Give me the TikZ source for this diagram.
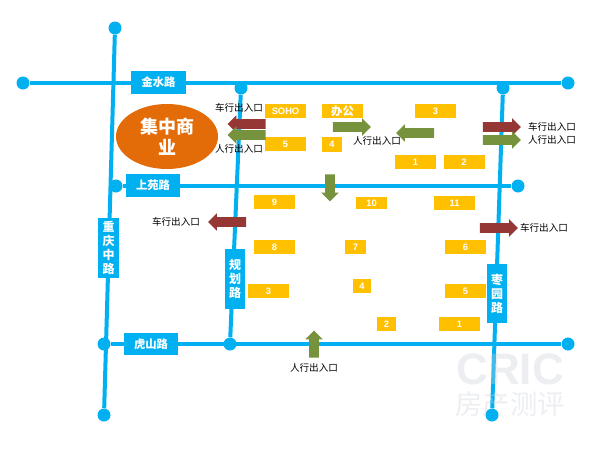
\documentclass[tikz,border=0pt]{standalone}
\usepackage{fontspec}
\setmainfont{Noto Sans CJK SC}
\newfontfamily\latinfont{Liberation Sans}
\usetikzlibrary{shapes.geometric,shapes.arrows}
\definecolor{road}{HTML}{00B0F0}
\definecolor{lot}{HTML}{FFC000}
\definecolor{hub}{HTML}{E36C09}
\definecolor{brick}{HTML}{953735}
\definecolor{moss}{HTML}{76923C}
\definecolor{mark}{HTML}{C9CDD6}
\tikzset{
  roadline/.style={draw=road, line width=3pt},
  roaddot/.style={circle, fill=road, inner sep=0pt, minimum size=9.75pt},
  roadtag/.style={fill=road, text=white, inner sep=0pt, align=center, font=\fontsize{8.5}{10.5}\selectfont\bfseries},
  roadtagv/.style={roadtag, font=\fontsize{9}{10.5}\selectfont\bfseries},
  lotbox/.style={fill=lot, text=white, inner sep=0pt, minimum width=30.75pt, minimum height=10.5pt, font=\fontsize{7}{8}\latinfont\bfseries},
  gateway/.style={single arrow, inner xsep=0pt, inner ysep=3.375pt, minimum height=28.5pt, minimum width=12.75pt, single arrow head extend=3pt, single arrow head indent=0pt},
  gatetxt/.style={text=black, inner sep=0pt, font=\fontsize{7.2}{8}\selectfont},
}
\begin{document}
\begin{tikzpicture}[x=0.75pt, y=-0.75pt]
  \useasboundingbox (0,0) rectangle (598,450);

  % road ends and junctions
  \node[roaddot] (jinW) at (23,83) {};
  \node[roaddot] (jinE) at (568,83) {};
  \node[roaddot] (yuanW) at (116,186) {};
  \node[roaddot] (yuanE) at (518,186) {};
  \node[roaddot] (huW) at (104,344) {};
  \node[roaddot] (huM) at (230,344) {};
  \node[roaddot] (huE) at (568,344) {};
  \node[roaddot] (chongN) at (115,28) {};
  \node[roaddot] (chongS) at (104,415) {};
  \node[roaddot] (guiN) at (241,88) {};
  \node[roaddot] (zaoN) at (503,88) {};
  \node[roaddot] (zaoS) at (492,415) {};

  % roads
  \draw[roadline] (jinW) -- (jinE);
  \draw[roadline] (yuanW) -- (yuanE);
  \draw[roadline] (huW) -- (huE);
  \draw[roadline] (chongN) -- (chongS);
  \draw[roadline] (guiN) -- (huM);
  \draw[roadline] (zaoN) -- (zaoS);

  % road names
  \node[roadtag, minimum width=41.25pt, minimum height=17.25pt] (jinTag) at (158.5,82.5) {金水路};
  \node[roadtag, minimum width=40.5pt, minimum height=17.25pt] (yuanTag) at (153,185.5) {上苑路};
  \node[roadtag, minimum width=40.5pt, minimum height=16.5pt] (huTag) at (151,344) {虎山路};
  \node[roadtagv, minimum width=15.75pt, minimum height=45pt] (chongTag) at (108.5,248) {重\\庆\\中\\路};
  \node[roadtagv, minimum width=15pt, minimum height=45pt] (guiTag) at (235,279) {规\\划\\路};
  \node[roadtagv, minimum width=15pt, minimum height=44.25pt] (zaoTag) at (497,293.5) {枣\\园\\路};

  % commercial block
  \node[ellipse, fill=hub, text=white, inner sep=0pt, minimum width=76.5pt, minimum height=48.75pt, align=center,
    font=\fontsize{13.5}{15.75}\selectfont\bfseries] (hubNode) at (167,136.5) {集中商\\业};

  % north plots
  \node[lotbox] (soho) at (285.5,111) {SOHO};
  \node[lotbox, font=\fontsize{8.5}{9}\selectfont\bfseries] (office) at (342.5,111) {办公};
  \node[lotbox] (n3) at (435.5,111) {3};
  \node[lotbox] (n5) at (285.5,144) {5};
  \node[lotbox, minimum width=15pt, minimum height=11.25pt] (n4) at (332,144.5) {4};
  \node[lotbox] (n1) at (415.5,162) {1};
  \node[lotbox] (n2) at (464,162) {2};

  % south plots
  \node[lotbox] (s9) at (274.5,202) {9};
  \node[lotbox, minimum width=23.25pt, minimum height=9pt] (s10) at (371.5,203) {10};
  \node[lotbox] (s11) at (454.5,203) {11};
  \node[lotbox] (s8) at (274.5,247) {8};
  \node[lotbox, minimum width=15.75pt] (s7) at (355.5,247) {7};
  \node[lotbox] (s6) at (465.5,247) {6};
  \node[lotbox] (s3) at (268.5,291) {3};
  \node[lotbox, minimum width=13.5pt] (s4) at (362,286) {4};
  \node[lotbox] (s5) at (465.5,291) {5};
  \node[lotbox, minimum width=14.25pt] (s2) at (386.5,324) {2};
  \node[lotbox] (s1) at (459.5,324) {1};

  % entrances
  \node[gateway, fill=brick, rotate=180] (carA) at (249,124) {};
  \node[gateway, fill=moss, rotate=180] (walkA) at (249,135) {};
  \node[gateway, fill=brick, rotate=180] (carB) at (229.5,222) {};
  \node[gateway, fill=moss] (walkB) at (349.5,127) {};
  \node[gateway, fill=moss, rotate=180] (walkC) at (417.5,133) {};
  \node[gateway, fill=brick] (carC) at (499.5,127) {};
  \node[gateway, fill=moss] (walkD) at (499.5,140) {};
  \node[gateway, fill=brick] (carD) at (496.5,228) {};
  \node[gateway, fill=moss, rotate=-90, minimum height=20.25pt] (walkE) at (330,185.5) {};
  \node[gateway, fill=moss, rotate=90, minimum height=20.25pt] (walkF) at (314,346.5) {};

  % entrance labels
  \node[gatetxt] (carAtxt) at (239,108) {车行出入口};
  \node[gatetxt] (walkAtxt) at (239,149) {人行出入口};
  \node[gatetxt] (carBtxt) at (176,222) {车行出入口};
  \node[gatetxt] (walkBtxt) at (377,141) {人行出入口};
  \node[gatetxt] (carCtxt) at (552,127) {车行出入口};
  \node[gatetxt] (walkDtxt) at (552,140) {人行出入口};
  \node[gatetxt] (carDtxt) at (544,228) {车行出入口};
  \node[gatetxt] (walkFtxt) at (314,368) {人行出入口};

  % watermark
  \node[text=mark, opacity=0.35, inner sep=0pt, text height=24pt, text depth=0pt, font=\fontsize{33}{33}\latinfont\bfseries] (markA) at (510,368) {CRIC};
  \node[text=mark, opacity=0.35, inner sep=0pt, text height=15pt, text depth=2pt, font=\fontsize{20.5}{22}\selectfont] (markB) at (510,406) {房产测评};
\end{tikzpicture}
\end{document}
